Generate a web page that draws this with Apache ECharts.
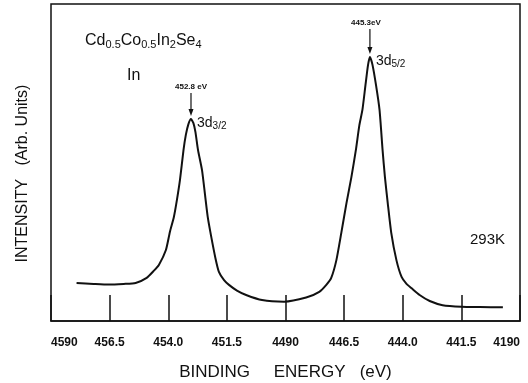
<!DOCTYPE html>
<html><head><meta charset="utf-8">
<script src="https://cdn.jsdelivr.net/npm/echarts@6/dist/echarts.min.js"></script>
<style>html,body{margin:0;padding:0;background:#fff}#c{width:528px;height:383px}</style>
</head><body><div id="c"></div>
<script>
// Binding energy (eV) and intensity (arb. units, 0-100 scale)
const energy = [457.91,457.18,456.54,455.90,455.39,454.92,454.62,454.40,454.10,453.93,453.76,453.63,453.50,453.35,453.25,453.14,453.03,452.93,452.84,452.73,452.56,452.43,452.31,452.18,451.99,451.84,451.62,451.41,451.07,450.68,450.00,449.06,448.12,447.56,447.26,447.05,446.83,446.62,446.40,446.19,446.00,445.85,445.72,445.59,445.48,445.40,445.29,445.14,444.99,444.86,444.76,444.64,444.49,444.27,444.05,443.84,443.62,443.28,442.85,442.30,441.49,440.71,439.73];
const intensity = [12.0,11.7,11.5,11.7,12.0,13.6,15.8,17.7,22.4,28.1,32.8,38.2,44.5,53.9,58.7,62.1,63.7,62.5,59.6,53.9,47.6,39.7,32.5,27.1,19.9,15.5,12.9,11.4,9.6,8.2,6.6,6.1,7.4,9.2,11.4,13.6,19.2,27.8,37.2,45.4,53.9,61.8,66.6,74.4,80.8,83.3,80.8,74.4,66.6,53.9,45.4,37.2,27.8,19.2,13.9,11.7,10.3,8.2,6.3,5.0,4.5,4.4,4.3];
const tickValues = [459, 456.5, 454, 451.5, 449, 446.5, 444, 441.5, 439];
const tickLabels = ['4590','456.5','454.0','451.5','4490','446.5','444.0','441.5','4190'];
const peakEnergy = [453.03, 445.40];
const peakValue = [63.7, 83.3];
const peakEnergyLabels = ['452.8 eV', '445.3eV'];
const peakNames = ['{n|3d}{f|3/2}', '{n|3d}{f|5/2}'];
const compoundLabel = '{n|Cd}{s|0.5}{n|Co}{s|0.5}{n|In}{s|2}{n|Se}{s|4}';
const elementLabel = 'In';
const tempLabel = '293K';

const FONT = '"Liberation Sans", Arial, Helvetica, sans-serif';
const INK = '#111';
const chart = echarts.init(document.getElementById('c'), null, {renderer: 'canvas'});

chart.setOption({
  animation: false,
  backgroundColor: '#fff',
  grid: {left: 51, right: 8, top: 4, bottom: 62, outerBoundsMode: 'none', containLabel: false,
    show: true, borderColor: INK, borderWidth: 1.5, backgroundColor: 'transparent'},
  xAxis: {
    type: 'value', inverse: true, min: 439, max: 459, interval: 2.5,
    axisLine: {show: true, lineStyle: {color: INK, width: 1.5}},
    axisTick: {show: true, inside: true, length: 26, lineStyle: {color: INK, width: 1.5}},
    splitLine: {show: false},
    axisLabel: {
      fontFamily: FONT, fontSize: 12, fontWeight: 'bold', color: INK, margin: 16,
      showMinLabel: true, showMaxLabel: true, alignMinLabel: 'right', alignMaxLabel: 'left',
      formatter: function (v) {
        const i = tickValues.findIndex(t => Math.abs(t - v) < 1e-6);
        return i >= 0 ? tickLabels[i] : '';
      }
    },
    name: 'BINDING     ENERGY   (eV)', nameLocation: 'middle', nameGap: 43,
    nameTextStyle: {fontFamily: FONT, fontSize: 17, color: INK}
  },
  yAxis: {
    type: 'value', min: 0, max: 100,
    axisLine: {show: false}, axisTick: {show: false}, axisLabel: {show: false}, splitLine: {show: false},
    name: 'INTENSITY   (Arb. Units)', nameLocation: 'middle', nameGap: 20,
    nameTextStyle: {fontFamily: FONT, fontSize: 16, color: INK, padding: [0, 22, 0, 0]}
  },
  series: [{
    type: 'line', showSymbol: false, smooth: 0.2,
    data: energy.map((e, i) => [e, intensity[i]]),
    lineStyle: {color: INK, width: 2}
  }]
});

const g = [];
for (let k = 0; k < peakEnergy.length; k++) {
  const p = chart.convertToPixel({gridIndex: 0}, [peakEnergy[k], peakValue[k]]);
  const x = p[0], y = p[1];
  const top = y - (k === 0 ? 26 : 28);
  g.push({type: 'line', shape: {x1: x, y1: top, x2: x, y2: y - 6}, style: {stroke: INK, lineWidth: 1.2}});
  g.push({type: 'polygon', shape: {points: [[x - 2.5, y - 10], [x + 2.5, y - 10], [x, y - 3]]}, style: {fill: INK}});
  g.push({type: 'text', x: x + (k === 0 ? 0 : -4), y: top - 2, style: {text: peakEnergyLabels[k], fontFamily: FONT, fontSize: 8, fontWeight: 'bold', fill: INK, align: 'center', verticalAlign: 'bottom'}});
  g.push({type: 'text', x: x + 6, y: y + 4, style: {
    text: peakNames[k], fontFamily: FONT, fill: INK, align: 'left', verticalAlign: 'middle',
    rich: {n: {fontSize: 14, fontFamily: FONT, fill: INK}, f: {fontSize: 10, fontFamily: FONT, fill: INK, padding: [6, 0, 0, 0]}}
  }});
}
g.push({type: 'text', x: 85, y: 41, style: {
  text: compoundLabel, fontFamily: FONT, fill: INK, align: 'left', verticalAlign: 'middle',
  rich: {n: {fontSize: 16, fontFamily: FONT, fill: INK}, s: {fontSize: 11, fontFamily: FONT, fill: INK, padding: [8, 0, 0, 0]}}
}});
g.push({type: 'text', x: 127, y: 76, style: {text: elementLabel, fontFamily: FONT, fontSize: 16, fill: INK, align: 'left', verticalAlign: 'middle'}});
g.push({type: 'text', x: 470, y: 240, style: {text: tempLabel, fontFamily: FONT, fontSize: 15, fill: INK, align: 'left', verticalAlign: 'middle'}});
chart.setOption({graphic: g});
</script></body></html>
